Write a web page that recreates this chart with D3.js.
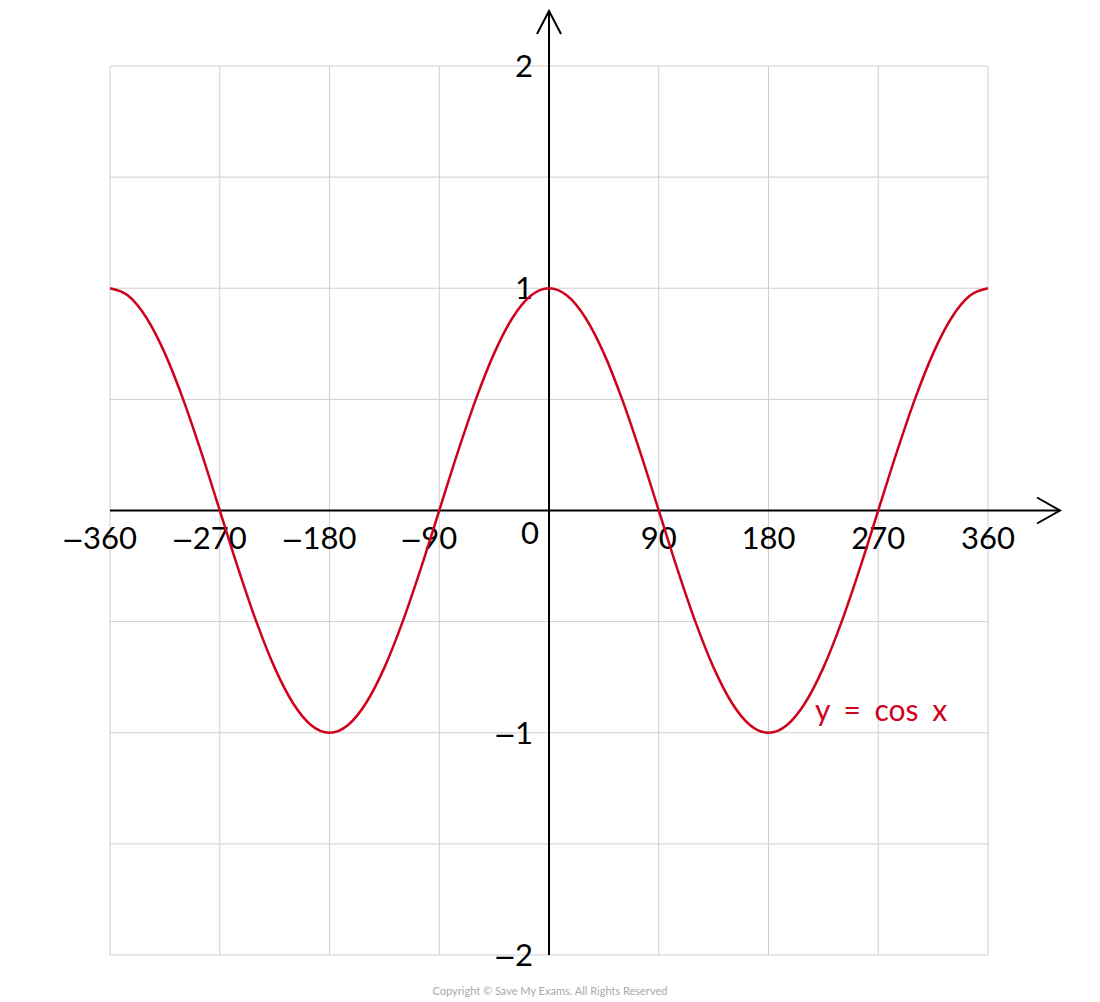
<!DOCTYPE html>
<html>
<head>
<meta charset="utf-8">
<script src="https://cdn.jsdelivr.net/npm/d3@7"></script>
<style>
  body { margin: 0; background: #fff; }
  text { font-family: "Lato", "Open Sans", sans-serif; }
  .minus { font-family: "DejaVu Sans", sans-serif; }
</style>
</head>
<body>
<div id="chart"></div>
<script>
'use strict';
// x values in degrees (every 15), y
var xDeg = [-360, -345, -330, -315, -300, -285, -270, -255, -240, -225, -210, -195,
            -180, -165, -150, -135, -120, -105, -90, -75, -60, -45, -30, -15,
            0, 15, 30, 45, 60, 75, 90, 105, 120, 135, 150, 165,
            180, 195, 210, 225, 240, 255, 270, 285, 300, 315, 330, 345, 360];
var yVal = [1, 0.966, 0.866, 0.707, 0.5, 0.259, 0, -0.259, -0.5, -0.707, -0.866, -0.966,
            -1, -0.966, -0.866, -0.707, -0.5, -0.259, 0, 0.259, 0.5, 0.707, 0.866, 0.966,
            1, 0.966, 0.866, 0.707, 0.5, 0.259, 0, -0.259, -0.5, -0.707, -0.866, -0.966,
            -1, -0.966, -0.866, -0.707, -0.5, -0.259, 0, 0.259, 0.5, 0.707, 0.866, 0.966, 1];
var xTicks = [-360, -270, -180, -90, 90, 180, 270, 360];
var yTicks = [-2, -1, 1, 2];
var xGrid = [-360, -270, -180, -90, 0, 90, 180, 270, 360];
var yGrid = [-2, -1.5, -1, -0.5, 0, 0.5, 1, 1.5, 2];
var curveLabel = "y = cos x";

var width = 1100, height = 1002;
var red = "#d0021b";
var fs = 31;

var x = d3.scaleLinear().domain([-360, 360]).range([110, 988]);
var y = d3.scaleLinear().domain([-2, 2]).range([955, 66]);

var svg = d3.select("#chart").append("svg")
    .attr("width", width)
    .attr("height", height);

// grid
svg.append("g").selectAll("line")
    .data(xGrid)
    .enter().append("line")
    .attr("x1", function (d) { return x(d); })
    .attr("x2", function (d) { return x(d); })
    .attr("y1", y(2)).attr("y2", y(-2))
    .attr("stroke", "#cfcfcf").attr("stroke-width", 1);
svg.append("g").selectAll("line")
    .data(yGrid)
    .enter().append("line")
    .attr("y1", function (d) { return y(d); })
    .attr("y2", function (d) { return y(d); })
    .attr("x1", x(-360)).attr("x2", x(360))
    .attr("stroke", "#cfcfcf").attr("stroke-width", 1);

// axes
svg.append("line")
    .attr("x1", x(-360)).attr("x2", 1060)
    .attr("y1", y(0)).attr("y2", y(0))
    .attr("stroke", "#000").attr("stroke-width", 2);
svg.append("line")
    .attr("x1", x(0)).attr("x2", x(0))
    .attr("y1", y(-2)).attr("y2", 11)
    .attr("stroke", "#000").attr("stroke-width", 2);
// arrow heads
svg.append("path")
    .attr("d", "M" + (1060 - 23) + "," + (y(0) - 13) + "L1060," + y(0) + "L" + (1060 - 23) + "," + (y(0) + 13))
    .attr("fill", "none").attr("stroke", "#000").attr("stroke-width", 2);
svg.append("path")
    .attr("d", "M" + (x(0) - 12) + ",34L" + x(0) + ",11L" + (x(0) + 12) + ",34")
    .attr("fill", "none").attr("stroke", "#000").attr("stroke-width", 2);

// x tick labels: digits centred on the grid line, minus sign hangs to the left
var xl = svg.append("g").selectAll("g")
    .data(xTicks)
    .enter().append("g")
    .attr("transform", function (d) { return "translate(" + x(d) + "," + (y(0) + 38) + ")"; });
xl.append("text")
    .attr("class", "num")
    .attr("text-anchor", "middle")
    .attr("font-size", fs)
    .text(function (d) { return Math.abs(d); });
xl.filter(function (d) { return d < 0; })
    .append("text")
    .attr("class", "minus")
    .attr("text-anchor", "end")
    .attr("font-size", 27)
    .attr("x", function () {
        var w = this.parentNode.querySelector(".num").getComputedTextLength();
        return -w / 2 + 1;
    })
    .text("\u2212");

// y tick labels
var yl = svg.append("g").selectAll("g")
    .data(yTicks)
    .enter().append("g")
    .attr("transform", function (d) { return "translate(" + (x(0) - 16) + "," + (y(d) + 11) + ")"; });
yl.append("text")
    .attr("class", "num")
    .attr("text-anchor", "end")
    .attr("font-size", fs)
    .text(function (d) { return Math.abs(d); });
yl.filter(function (d) { return d < 0; })
    .append("text")
    .attr("class", "minus")
    .attr("text-anchor", "end")
    .attr("font-size", 27)
    .attr("x", function () {
        var w = this.parentNode.querySelector(".num").getComputedTextLength();
        return -w + 1;
    })
    .text("\u2212");

svg.append("text")
    .attr("x", x(0) - 19).attr("y", y(0) + 33)
    .attr("text-anchor", "middle")
    .attr("font-size", fs)
    .text("0");

// curve
var line = d3.line()
    .x(function (d, i) { return x(xDeg[i]); })
    .y(function (d) { return y(d); })
    .curve(d3.curveMonotoneX);
svg.append("path")
    .datum(yVal)
    .attr("d", line)
    .attr("fill", "none")
    .attr("stroke", red)
    .attr("stroke-width", 2.5);

svg.append("text")
    .attr("x", 815).attr("y", 721)
    .attr("fill", red)
    .attr("font-size", 30)
    .attr("word-spacing", 6)
    .text(curveLabel);

// copyright
svg.append("text")
    .attr("x", 550).attr("y", 995)
    .attr("text-anchor", "middle")
    .attr("fill", "#aaa")
    .attr("font-size", 11)
    .attr("font-family", "Open Sans")
    .text("Copyright \u00a9 Save My Exams. All Rights Reserved");
</script>
</body>
</html>
